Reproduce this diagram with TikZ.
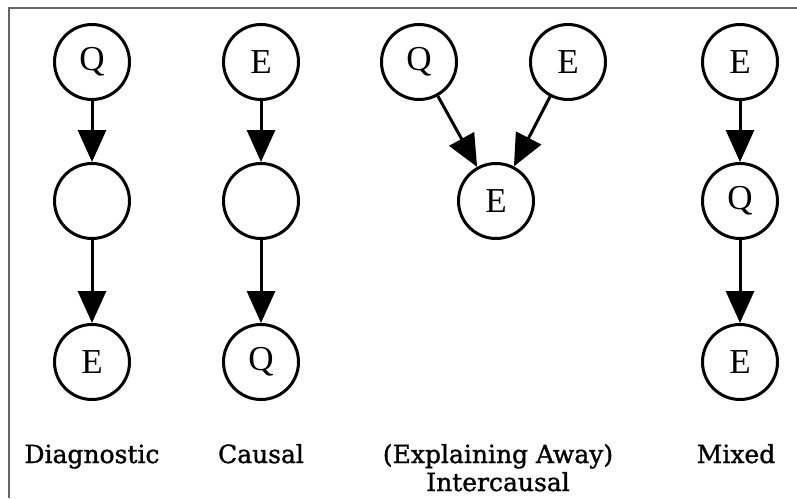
\documentclass[tikz,border=0pt]{standalone}
\usepackage{fontspec}
\setmainfont{Liberation Serif}
\newfontfamily\labelfont[FakeBold=1.2]{DejaVu Serif}
\usetikzlibrary{arrows.meta}
\tikzset{
  var/.style={circle, draw, line width=3pt, minimum size=75pt, inner sep=0pt,
    font=\fontsize{35}{35}\selectfont},
  link/.style={line width=3pt, -{Triangle[length=32pt, width=28pt]}},
  caption/.style={font=\labelfont\fontsize{25}{28}\selectfont, align=center, anchor=base},
  frame/.style={draw=black!60, line width=1.5pt}
}
\begin{document}
\begin{tikzpicture}[x=1pt, y=-1pt]
  \useasboundingbox (0,0) rectangle (797,498);
  % outer frame (top and left edges)
  \draw[frame] (797,8) -- (9,8) -- (9,498);

  % diagnostic chain
  \node[var] (d1) at (92,62) {Q};
  \node[var] (d2) at (92,201) {};
  \node[var] (d3) at (92,362) {E};
  \draw[link] (d1) -- (d2);
  \draw[link] (d2) -- (d3);

  % causal chain
  \node[var] (c1) at (261,62) {E};
  \node[var] (c2) at (261,201) {};
  \node[var] (c3) at (261,362) {Q};
  \draw[link] (c1) -- (c2);
  \draw[link] (c2) -- (c3);

  % intercausal (v-structure)
  \node[var] (i1) at (419,62) {Q};
  \node[var] (i2) at (568,62) {E};
  \node[var] (i3) at (496,201) {E};
  \draw[link] (i1) -- (i3);
  \draw[link] (i2) -- (i3);

  % mixed chain
  \node[var] (m1) at (740,62) {E};
  \node[var] (m2) at (740,201) {Q};
  \node[var] (m3) at (740,362) {E};
  \draw[link] (m1) -- (m2);
  \draw[link] (m2) -- (m3);

  % captions
  \node[caption] (ld) at (92,463) {Diagnostic};
  \node[caption] (lc) at (261,463) {Causal};
  \node[caption] (li) at (498,491) {(Explaining Away)\\Intercausal};
  \node[caption] (lm) at (736,463) {Mixed};
\end{tikzpicture}
\end{document}
